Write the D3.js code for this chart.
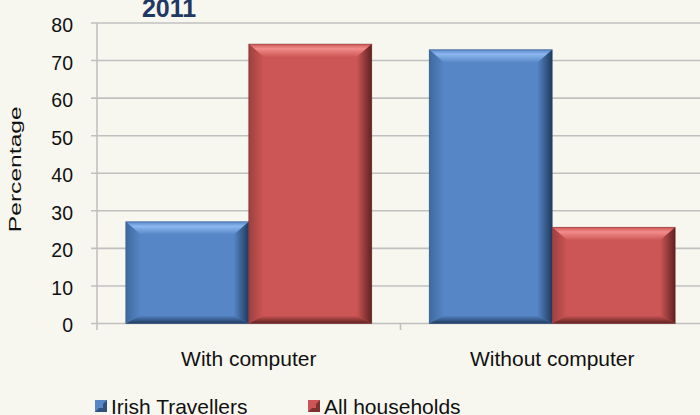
<!DOCTYPE html>
<html>
<head>
<meta charset="utf-8">
<script src="https://cdn.jsdelivr.net/npm/d3@7"></script>
<style>
  body { margin: 0; background: #f7f7ef; }
  svg { display: block; font-family: "Liberation Sans", Arial, sans-serif; }
</style>
</head>
<body>
<svg id="chart" width="700" height="415"></svg>
<script>
const categories = ["With computer", "Without computer"];
const series = ["Irish Travellers", "All households"];
const travellers = [27.1, 72.9];
const allHouseholds = [74.4, 25.6];
const yTicks = [0, 10, 20, 30, 40, 50, 60, 70, 80];

const colors = {
  "Irish Travellers": { face: "#5686c6", light: "#8cb8ef", dark: "#1f3a5e", mid: "#3f6a9f" },
  "All households": { face: "#cc5655", light: "#f28c8a", dark: "#5e2221", mid: "#9e403f" }
};

const svg = d3.select("#chart");
const width = 700;

const x = d3.scaleBand().domain(categories).range([97, 704]).paddingInner(0).paddingOuter(0);
const xs = d3.scaleBand().domain(series).range([0, x.bandwidth()]).paddingOuter(0.234).paddingInner(0);
const y = d3.scaleLinear().domain([0, 80]).range([323.5, 23]);

// gridlines
svg.append("g").selectAll("line").data(yTicks).join("line")
  .attr("x1", 91).attr("x2", width)
  .attr("y1", d => y(d)).attr("y2", d => y(d))
  .attr("stroke", "#c0c0c0").attr("stroke-width", 1.6);

// y axis line
svg.append("line").attr("x1", 97).attr("x2", 97).attr("y1", y(80)).attr("y2", 330)
  .attr("stroke", "#c0c0c0").attr("stroke-width", 1.6);

// x ticks
svg.append("g").selectAll("line").data(categories.slice(1)).join("line")
  .attr("x1", d => x(d)).attr("x2", d => x(d))
  .attr("y1", y(0)).attr("y2", 330)
  .attr("stroke", "#c0c0c0").attr("stroke-width", 1.6);

// y tick labels
svg.append("g").selectAll("text").data(yTicks).join("text")
  .attr("x", 73).attr("y", d => y(d)).attr("dy", "0.46em")
  .attr("text-anchor", "end").attr("font-size", 19.5).attr("fill", "#111")
  .text(d => d);

// y axis title
svg.append("text")
  .attr("transform", `translate(21,${(y(0) + y(80)) / 2 - 4}) rotate(-90)`)
  .attr("text-anchor", "middle").attr("font-size", 16).attr("fill", "#111")
  .attr("textLength", 126).attr("lengthAdjust", "spacingAndGlyphs")
  .text("Percentage");

// x labels
svg.append("g").selectAll("text").data(categories).join("text")
  .attr("x", d => x(d) + x.bandwidth() / 2).attr("y", 366)
  .attr("text-anchor", "middle").attr("font-size", 21).attr("fill", "#111")
  .text(d => d);

// title (cut off at top, as in the original)
svg.append("text").attr("x", 169).attr("y", 16.5)
  .attr("text-anchor", "middle").attr("font-size", 25).attr("font-weight", "bold")
  .attr("fill", "#1f3864").text("2011");

// bevel gradients
const defs = svg.append("defs");
series.forEach((s, i) => {
  const c = colors[s];
  const mk = (id, x1, y1, x2, y2, stops) => {
    const g = defs.append("linearGradient").attr("id", id)
      .attr("x1", x1).attr("y1", y1).attr("x2", x2).attr("y2", y2);
    stops.forEach(([o, col]) => g.append("stop").attr("offset", o).attr("stop-color", col));
  };
  mk(`top${i}`, 0, 0, 0, 1, [[0, c.face], [0.35, c.light], [1, c.face]]);
  mk(`left${i}`, 0, 0, 1, 0, [[0, c.mid], [1, c.face]]);
  mk(`right${i}`, 1, 0, 0, 0, [[0, c.dark], [1, c.face]]);
  mk(`bot${i}`, 0, 1, 0, 0, [[0, c.dark], [1, c.face]]);
});

const rows = categories.map((cat, i) => [
  { cat, s: series[0], v: travellers[i], k: 0 },
  { cat, s: series[1], v: allHouseholds[i], k: 1 }
]).flat();

const bars = svg.append("g").selectAll("g").data(rows).join("g");
bars.each(function(d) {
  const g = d3.select(this);
  const x0 = x(d.cat) + xs(d.s), x1 = x0 + xs.bandwidth();
  const y0 = y(d.v), y1 = y(0);
  const bw = 15, bt = 13, bb = 8;
  const c = colors[d.s];
  g.append("rect").attr("x", x0).attr("y", y0).attr("width", x1 - x0).attr("height", y1 - y0)
    .attr("fill", c.face);
  const poly = (pts, fill) => g.append("polygon").attr("points", pts.map(p => p.join(",")).join(" ")).attr("fill", fill);
  poly([[x0, y0], [x1, y0], [x1 - bw, y0 + bt], [x0 + bw, y0 + bt]], `url(#top${d.k})`);
  poly([[x0, y0], [x0 + bw, y0 + bt], [x0 + bw, y1 - bb], [x0, y1]], `url(#left${d.k})`);
  poly([[x1, y0], [x1, y1], [x1 - bw, y1 - bb], [x1 - bw, y0 + bt]], `url(#right${d.k})`);
  poly([[x0, y1], [x0 + bw, y1 - bb], [x1 - bw, y1 - bb], [x1, y1]], `url(#bot${d.k})`);
  g.append("rect").attr("x", x0).attr("y", y0).attr("width", x1 - x0).attr("height", y1 - y0)
    .attr("fill", "none").attr("stroke", c.dark).attr("stroke-opacity", 0.35).attr("stroke-width", 1);
});

// legend
const legendX = [95, 308];
const leg = svg.append("g").selectAll("g").data(series).join("g")
  .attr("transform", (d, i) => `translate(${legendX[i]},400)`);
leg.append("rect").attr("width", 12).attr("height", 12).attr("fill", d => colors[d].face);
leg.append("polygon").attr("points", "12,0 12,12 0,12 4,8 8,8 8,4")
  .attr("fill", d => colors[d].dark).attr("opacity", 0.7);
leg.append("text").attr("x", 16).attr("y", 13.5).attr("font-size", 21).attr("fill", "#111")
  .text(d => d);
</script>
</body>
</html>
